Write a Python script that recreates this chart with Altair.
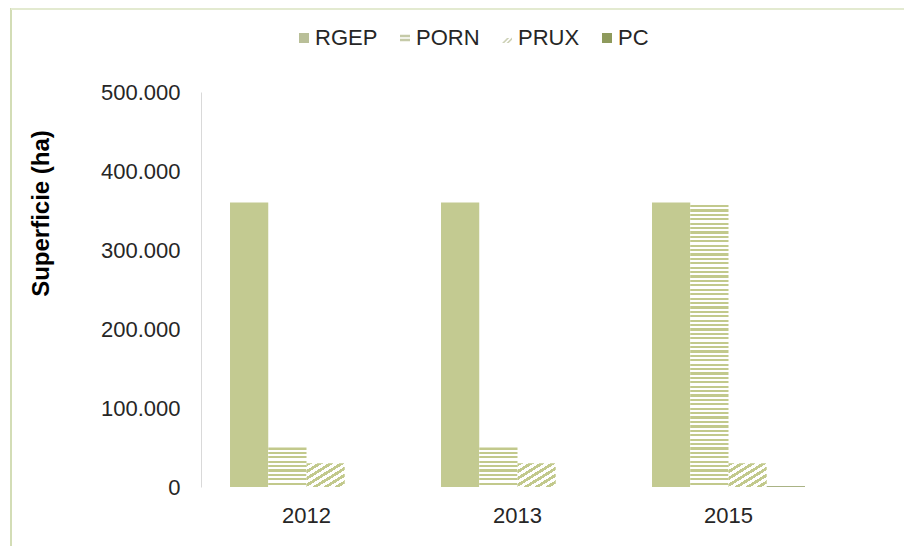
import altair as alt
import pandas as pd

# ---- data ----
years = ["2012", "2013", "2015"]
series = ["RGEP", "PORN", "PRUX", "PC"]
rgep = [360000, 360000, 360000]
porn = [50000, 50000, 357000]
prux = [30000, 30000, 30000]
pc = [0, 0, 1000]
y_ticks = [0, 100000, 200000, 300000, 400000, 500000]

values = {"RGEP": rgep, "PORN": porn, "PRUX": prux, "PC": pc}
rows = []
for s in series:
    for y, v in zip(years, values[s]):
        rows.append({"year": y, "series": s, "value": v})
df = pd.DataFrame(rows)

# ---- styling ----
FONT = "Liberation Sans"
C_RGEP = "#c3ca91"
C_STRIPE = "#c2c98c"
C_PC = "#8e9a5c"
PLOT_W, PLOT_H = 633, 395
Y_MAX = 500000
STRIPE_PX = 4.4


def hstripes(n, color, frac=0.5):
    stops = []
    for i in range(n):
        a, b, c = i / n, (i + frac) / n, (i + 1) / n
        stops += [{"offset": a, "color": color}, {"offset": b, "color": color},
                  {"offset": b, "color": "white"}, {"offset": c, "color": "white"}]
    return {"gradient": "linear", "x1": 0, "y1": 0, "x2": 0, "y2": 1, "stops": stops}


def dstripes(n, color, frac=0.5):
    g = hstripes(n, color, frac)
    g.update({"x1": 0, "y1": 0, "x2": 1, "y2": 1})
    return g


conds = []
for y, v in zip(years, porn):
    n = max(1, round(v / Y_MAX * PLOT_H / STRIPE_PX))
    conds.append({"test": f"datum.series === 'PORN' && datum.year === '{y}'",
                  "value": hstripes(n, C_STRIPE)})
conds.append({"test": "datum.series === 'PRUX'", "value": dstripes(7, C_STRIPE)})
conds.append({"test": "datum.series === 'PC'", "value": C_PC})

# legend symbols (shape paths)
SQUARE = "M-1,-1H1V1H-1Z"
EQUALS = "M-1,-0.65H1V-0.15H-1Z M-1,0.15H1V0.65H-1Z"
SLASHES = "M-1,1L-0.55,1L0.45,0L0,0Z M-0.1,1L0.35,1L1,0.35L1,-0.1Z"
leg_shapes = [SQUARE, EQUALS, SLASHES, SQUARE]
leg_colors = ["#b9bf98", "#c5caa8", "#cdd1b6", C_PC]

legend = alt.Legend(
    title=None, orient="none", direction="horizontal", columns=4,
    legendX=92, legendY=-65, symbolSize=100, symbolOpacity=1,
    symbolStrokeWidth=0, labelFont=FONT, labelFontSize=22, labelColor="#262626",
    labelOffset=0, columnPadding=16,
)

bars = alt.Chart(df).mark_bar(strokeWidth=0).encode(
    x=alt.X("year:N", sort=years, title=None,
            scale=alt.Scale(paddingInner=0.275, paddingOuter=0.1375),
            axis=alt.Axis(domain=False, ticks=False, labelAngle=0, labelFont=FONT,
                          labelFontSize=22, labelColor="#262626", labelPadding=18)),
    xOffset=alt.XOffset("series:N", sort=series,
                        scale=alt.Scale(domain=series, paddingInner=0, paddingOuter=0)),
    y=alt.Y("value:Q", scale=alt.Scale(domain=[0, Y_MAX], nice=False),
            axis=alt.Axis(values=y_ticks, grid=False, ticks=False,
                          labelExpr="replace(format(datum.value, ','), ',', '.')",
                          domainColor="#d9d9d9", labelFont=FONT, labelFontSize=22,
                          labelColor="#262626", labelPadding=21,
                          title="Superficie (ha)", titleFont=FONT, titleFontSize=24,
                          titleFontWeight="bold", titleColor="#000000",
                          titleAngle=270, titleX=-160, titleY=121,
                          titleAlign="center", titleBaseline="middle")),
    fill=alt.FillValue(value=C_RGEP, condition=conds),
)

# legend-only layer: points carry the legend symbols
leg_layer = alt.Chart(df).mark_point(
    filled=True, size=1, strokeWidth=0, fillOpacity=0
).encode(
    x=alt.X("year:N", sort=years),
    y=alt.Y("value:Q"),
    fill=alt.Fill("series:N", scale=alt.Scale(domain=series, range=leg_colors),
                  legend=legend),
    shape=alt.Shape("series:N", scale=alt.Scale(domain=series, range=leg_shapes),
                    legend=legend),
)

frame = pd.DataFrame({"edge": ["frame"]})
left_line = alt.Chart(frame).mark_rule(color="#d3ddb6", strokeWidth=2).encode(
    x=alt.value(-190), y=alt.value(-84), y2=alt.value(PLOT_H + 59))
top_line = alt.Chart(frame).mark_rule(color="#e3ead0", strokeWidth=2).encode(
    x=alt.value(-190), x2=alt.value(PLOT_W + 70), y=alt.value(-83))

chart = alt.layer(bars, leg_layer, left_line, top_line).properties(
    width=PLOT_W, height=PLOT_H, background="white",
    autosize=alt.AutoSizeParams(type="none"),
    padding={"left": 193, "top": 84, "right": 75, "bottom": 59},
).configure_view(stroke=None)

chart.save("out.html", embed_options={"renderer": "svg", "actions": False})
